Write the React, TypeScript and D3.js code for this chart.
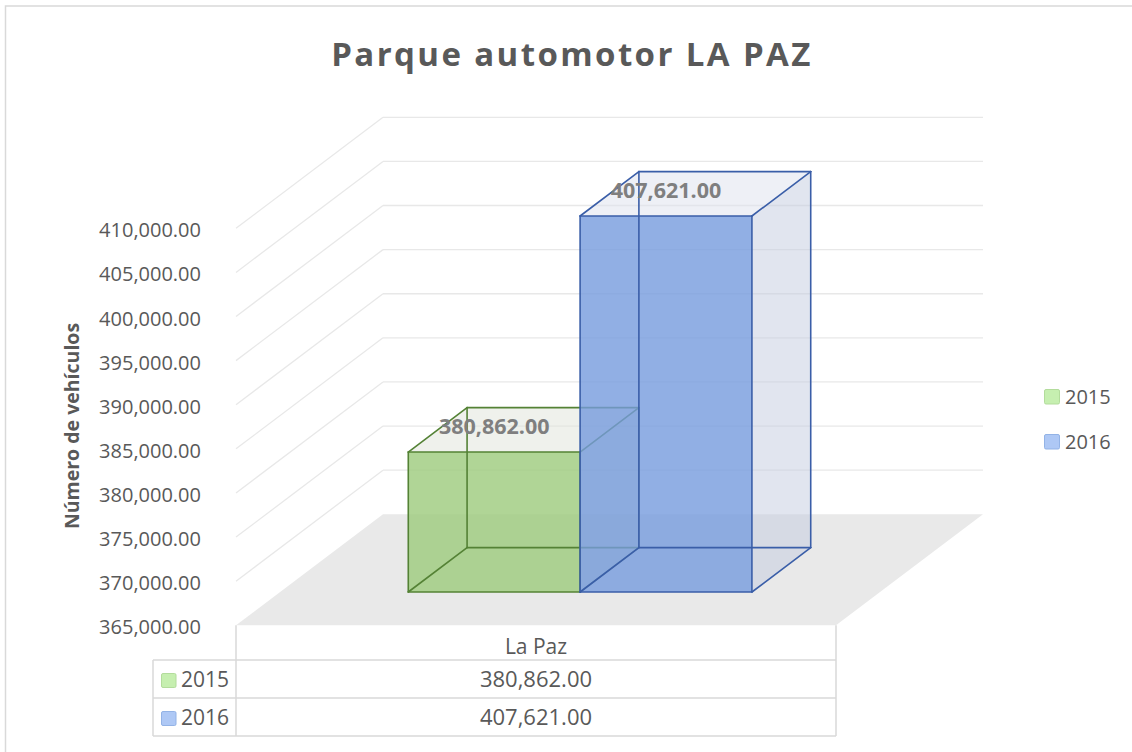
import React from 'react';
import * as d3 from 'd3';

// datos del gráfico
const categories = ['La Paz'];
const seriesNames = ['2015', '2016'];
const values2015 = [380862];
const values2016 = [407621];
const yDomain = [365000, 410000];
const chartTitle = 'Parque automotor LA PAZ';
const yTitle = 'Número de vehículos';

const W = 1132;
const H = 752;
const FONT = "'Open Sans', 'Noto Sans', sans-serif";

// colores de cada serie
const colors = {
  '2015': { front: '#9cca7c', top: '#dfe3d9', side: '#c9d6bd', stroke: '#548235', key: '#c6efb0', keyStroke: '#b3dc9c' },
  '2016': { front: '#759bdd', top: '#dde1ed', side: '#c4cbe0', stroke: '#3a5ea8', key: '#aec8f5', keyStroke: '#93b3e6' },
};

const App = () => {
  const series = [
    { name: seriesNames[0], values: values2015 },
    { name: seriesNames[1], values: values2016 },
  ];

  // plano trasero
  const backLeft = 383;
  const backRight = 983;
  const depthVec = [-147, 111];

  const x = d3.scaleBand().domain(categories).range([backLeft, backRight]);
  const xSeries = d3.scaleBand()
    .domain(seriesNames)
    .range([0, x.bandwidth()])
    .paddingInner(0)
    .paddingOuter(0.746);
  const y = d3.scaleLinear().domain(yDomain).range([514.3, 117.3]);
  const yTicks = y.ticks(10);
  const fmt = d3.format(',.2f');

  // proyeccion: (x del plano trasero, y, profundidad 0..1)
  const P = (px: number, py: number, d: number): [number, number] => [px + d * depthVec[0], py + d * depthVec[1]];
  const poly = (pts: [number, number][]) => d3.line()(pts) + 'Z';

  const y0 = y(yDomain[0]);
  const floor = poly([P(backLeft, y0, 0), P(backRight, y0, 0), P(backRight, y0, 1), P(backLeft, y0, 1)]);

  const dBack = 0.3;
  const dFront = 0.7;

  const bars: React.ReactNode[] = [];
  const labels: React.ReactNode[] = [];
  categories.forEach((cat, ci) => {
    series.forEach((s) => {
      const c = colors[s.name];
      const xl = x(cat)! + xSeries(s.name)!;
      const xr = xl + xSeries.bandwidth();
      const yt = y(s.values[ci]);
      // 8 vertices
      const fbl = P(xl, y0, dFront), fbr = P(xr, y0, dFront), ftl = P(xl, yt, dFront), ftr = P(xr, yt, dFront);
      const bbl = P(xl, y0, dBack), bbr = P(xr, y0, dBack), btl = P(xl, yt, dBack), btr = P(xr, yt, dBack);
      const edges: [number, number][][] = [
        [bbl, bbr], [bbl, btl], [bbr, btr], [btl, btr],
        [bbl, fbl], [bbr, fbr], [btl, ftl], [btr, ftr],
        [fbl, fbr], [fbl, ftl], [fbr, ftr], [ftl, ftr],
      ];
      bars.push(
        <g key={cat + s.name}>
          <path d={poly([fbr, bbr, btr, ftr])} fill={c.side} fillOpacity={0.5} />
          <path d={poly([ftl, ftr, btr, btl])} fill={c.top} fillOpacity={0.5} />
          <path d={poly([fbl, fbr, ftr, ftl])} fill={c.front} fillOpacity={0.8} />
          {edges.map((e, i) => (
            <line key={i} x1={e[0][0]} y1={e[0][1]} x2={e[1][0]} y2={e[1][1]}
              stroke={c.stroke} strokeWidth={1.6} strokeLinecap="round" />
          ))}
        </g>
      );
      const mid = P(xl, yt, (dBack + dFront) / 2);
      labels.push(
        <text key={'l' + cat + s.name} x={(fbl[0] + fbr[0]) / 2} y={mid[1] + 4} textAnchor="middle"
          fontFamily={FONT} fontWeight={700} fontSize={21.5} fill="#7f7f7f">
          {fmt(s.values[ci])}
        </text>
      );
    });
  });

  // tabla de datos
  const tableLeft = 153;
  const tableCellLeft = P(backLeft, y0, 1)[0];
  const tableRight = P(backRight, y0, 1)[0];
  const tableTop = P(backLeft, y0, 1)[1];
  const rows = d3.scaleBand().domain(seriesNames).range([660, 736]);
  const tableMid = (tableCellLeft + tableRight) / 2;
  const gridStroke = '#d9d9d9';

  // leyenda derecha
  const legendY = d3.scalePoint().domain(seriesNames).range([396.5, 441.5]);

  return (
    <svg width={W} height={H} style={{ position: 'absolute', left: 0, top: 0, background: '#fff' }}>
      <rect x={0} y={0} width={W} height={H} fill="#fff" />
      <rect x={5.5} y={6} width={W + 20} height={H + 20} fill="none" stroke="#d9d9d9" strokeWidth={1.5} />

      <text x={572} y={66} textAnchor="middle" fontFamily={FONT} fontWeight={700} fontSize={33}
        letterSpacing={2.4} fill="#595959">{chartTitle}</text>

      <path d={floor} fill="#e9e9e9" />

      {yTicks.map((t) => {
        const a = P(backLeft, y(t), 0);
        const b = P(backLeft, y(t), 1);
        return (
          <g key={t}>
            {t !== yDomain[0] && (
              <>
                <line x1={backLeft} y1={y(t)} x2={backRight} y2={y(t)} stroke="#e8e8e8" strokeWidth={1.3} />
                <line x1={a[0]} y1={a[1]} x2={b[0]} y2={b[1]} stroke="#e8e8e8" strokeWidth={1.3} />
              </>
            )}
            <text x={201} y={b[1] + 9} textAnchor="end" fontFamily={FONT} fontSize={20} fill="#595959">
              {fmt(t)}
            </text>
          </g>
        );
      })}

      <text transform="translate(79,426) rotate(-90)" textAnchor="middle" fontFamily={FONT}
        fontWeight={700} fontSize={19.5} fill="#595959">{yTitle}</text>

      {bars}
      {labels}

      {/* tabla */}
      <g stroke={gridStroke} strokeWidth={1.5}>
        <line x1={tableCellLeft} y1={tableTop} x2={tableCellLeft} y2={736} />
        <line x1={tableRight} y1={tableTop} x2={tableRight} y2={736} />
        <line x1={tableLeft} y1={660} x2={tableLeft} y2={736} />
        {[660, 698, 736].map((ly) => (
          <line key={ly} x1={tableLeft} y1={ly} x2={tableRight} y2={ly} />
        ))}
      </g>
      {categories.map((cat) => (
        <text key={cat} x={tableMid} y={654} textAnchor="middle" fontFamily={FONT} fontSize={21}
          fill="#595959">{cat}</text>
      ))}
      {series.map((s) => {
        const ry = rows(s.name)!;
        const c = colors[s.name];
        return (
          <g key={s.name}>
            <rect x={161.5} y={ry + 13.5} width={14.5} height={14} rx={1.5} fill={c.key} stroke={c.keyStroke} />
            <text x={181} y={ry + 27} fontFamily={FONT} fontSize={21} fill="#595959">{s.name}</text>
            <text x={tableMid} y={ry + 27} textAnchor="middle" fontFamily={FONT} fontSize={22}
              fill="#595959">{fmt(s.values[0])}</text>
          </g>
        );
      })}

      {/* leyenda */}
      {seriesNames.map((n) => {
        const ly = legendY(n)!;
        const c = colors[n];
        return (
          <g key={n}>
            <rect x={1044.5} y={ly - 7} width={15} height={14.5} rx={1.5} fill={c.key} stroke={c.keyStroke} />
            <text x={1065} y={ly + 7} fontFamily={FONT} fontSize={20} fill="#595959">{n}</text>
          </g>
        );
      })}
    </svg>
  );
};

export default App;
